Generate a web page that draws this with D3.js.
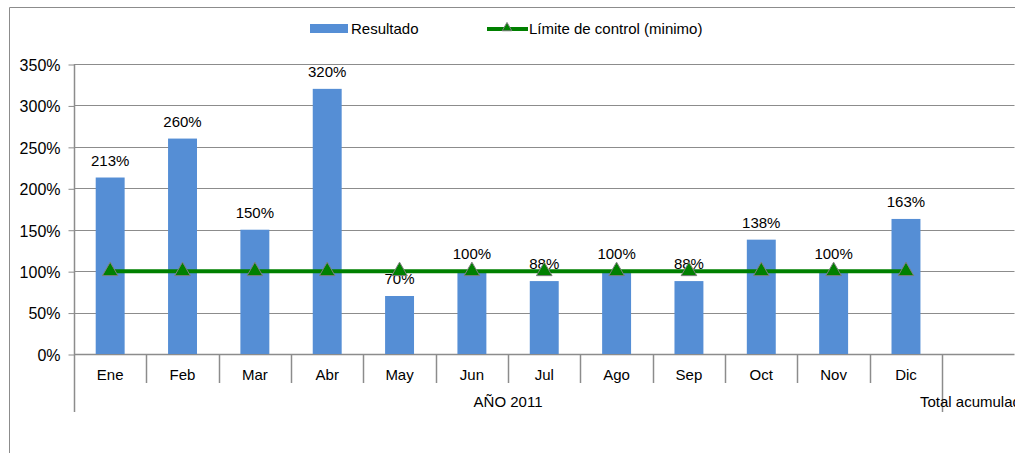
<!DOCTYPE html>
<html><head><meta charset="utf-8">
<script src="https://cdn.jsdelivr.net/npm/d3@7"></script>
<style>body{margin:0;background:#fff;overflow:hidden}svg{display:block;font-family:"Liberation Sans",Arial,sans-serif}</style>
</head><body>
<script>
const categories = ["Ene","Feb","Mar","Abr","May","Jun","Jul","Ago","Sep","Oct","Nov","Dic","Total acumulado"];
const resultado = [213,260,150,320,70,100,88,100,88,138,100,163,null];
const limite = [100,100,100,100,100,100,100,100,100,100,100,100,null];
const yTicks = [0,50,100,150,200,250,300,350];
const groupLabel = "AÑO 2011";
const seriesNames = ["Resultado","Límite de control (minimo)"];

(function(){
const W=1015,H=453;
const svg=d3.select("body").append("svg").attr("width",W).attr("height",H);
const mL=74, mT=64, mB=354, mR=1014.5;
const x=d3.scaleBand().domain(categories).range([mL,mR]).paddingInner(0.6).paddingOuter(0.3);
const xb=d3.scaleBand().domain(categories).range([mL,mR]);
const y=d3.scaleLinear().domain([0,350]).range([mB,mT]);
const grid="#8c8c8c";

// outer border
svg.append("path").attr("d",`M9.5,${H}V7.5H${W}`).attr("fill","none").attr("stroke",grid).attr("stroke-width",1);

// gridlines
svg.append("g").selectAll("line").data(yTicks.filter(d=>d>0)).join("line")
 .attr("x1",mL).attr("x2",mR).attr("y1",d=>Math.round(y(d))+0.5).attr("y2",d=>Math.round(y(d))+0.5)
 .attr("stroke",grid);

// y axis
const ya=svg.append("g").attr("transform",`translate(${mL+0.5},0)`)
 .call(d3.axisLeft(y).tickValues(yTicks).tickFormat(d=>d+"%").tickSize(6).tickPadding(8).tickSizeOuter(0));
ya.select(".domain").remove();
ya.selectAll(".tick line").attr("stroke",grid).attr("transform","translate(0,0.5)");
ya.selectAll("text").attr("font-size",16).attr("fill","#000").attr("font-family","Liberation Sans, Arial, sans-serif").attr("dy","0.4em");
svg.append("line").attr("x1",mL+0.5).attr("x2",mL+0.5).attr("y1",mT).attr("y2",412).attr("stroke",grid).attr("stroke-width",1.5);

// x axis baseline
svg.append("line").attr("x1",mL).attr("x2",mR).attr("y1",mB+0.5).attr("y2",mB+0.5).attr("stroke",grid).attr("stroke-width",1.5);

// bars
svg.append("g").selectAll("rect").data(categories.map((c,i)=>({c,v:resultado[i]})).filter(d=>d.v!=null)).join("rect")
 .attr("x",d=>x(d.c)).attr("width",x.bandwidth()).attr("y",d=>y(d.v)).attr("height",d=>y(0)-y(d.v))
 .attr("fill","#558ed5");

// category separators
svg.append("g").selectAll("line").data(categories.slice(1)).join("line")
 .attr("x1",d=>Math.round(xb(d))+0.5).attr("x2",d=>Math.round(xb(d))+0.5)
 .attr("y1",mB).attr("y2",d=>d==="Total acumulado"?412:383).attr("stroke",grid).attr("stroke-width",1.5);

// category labels
svg.append("g").selectAll("text").data(categories.slice(0,12)).join("text")
 .attr("x",d=>xb(d)+xb.bandwidth()/2).attr("y",380).attr("text-anchor","middle").attr("font-size",15).text(d=>d);
svg.append("text").attr("x",(xb("Ene")+xb("Total acumulado"))/2).attr("y",407).attr("text-anchor","middle").attr("font-size",15).text(groupLabel);
svg.append("text").attr("x",920).attr("y",407).attr("font-size",15).text("Total acumulado");

// data labels
svg.append("g").selectAll("text").data(categories.map((c,i)=>({c,v:resultado[i]})).filter(d=>d.v!=null)).join("text")
 .attr("x",d=>x(d.c)+x.bandwidth()/2).attr("y",d=>y(d.v)-12).attr("text-anchor","middle").attr("font-size",15).text(d=>d.v+"%");

// limit line
const ld=categories.map((c,i)=>({c,v:limite[i]})).filter(d=>d.v!=null);
svg.append("path").datum(ld).attr("fill","none").attr("stroke","#008000").attr("stroke-width",4)
 .attr("d",d3.line().x(d=>xb(d.c)+xb.bandwidth()/2).y(d=>y(d.v)));
const tri=d3.symbol().type(d3.symbolTriangle).size(105);
svg.append("g").selectAll("path").data(ld).join("path")
 .attr("transform",d=>`translate(${xb(d.c)+xb.bandwidth()/2},${y(d.v)})`).attr("d",tri)
 .attr("fill","#008000").attr("stroke","#7f7f7f").attr("stroke-width",1);

// legend
const lg=svg.append("g");
lg.append("rect").attr("x",310).attr("y",24).attr("width",38).attr("height",9).attr("fill","#558ed5");
lg.append("text").attr("x",351).attr("y",34).attr("font-size",15).text(seriesNames[0]);
lg.append("line").attr("x1",487).attr("x2",528).attr("y1",29).attr("y2",29).attr("stroke","#008000").attr("stroke-width",4);
lg.append("path").attr("transform","translate(507,28)").attr("d",d3.symbol().type(d3.symbolTriangle).size(40)).attr("fill","#008000").attr("stroke","#7f7f7f");
lg.append("text").attr("x",529).attr("y",34).attr("font-size",15).text(seriesNames[1]);
})();
</script>
</body></html>
